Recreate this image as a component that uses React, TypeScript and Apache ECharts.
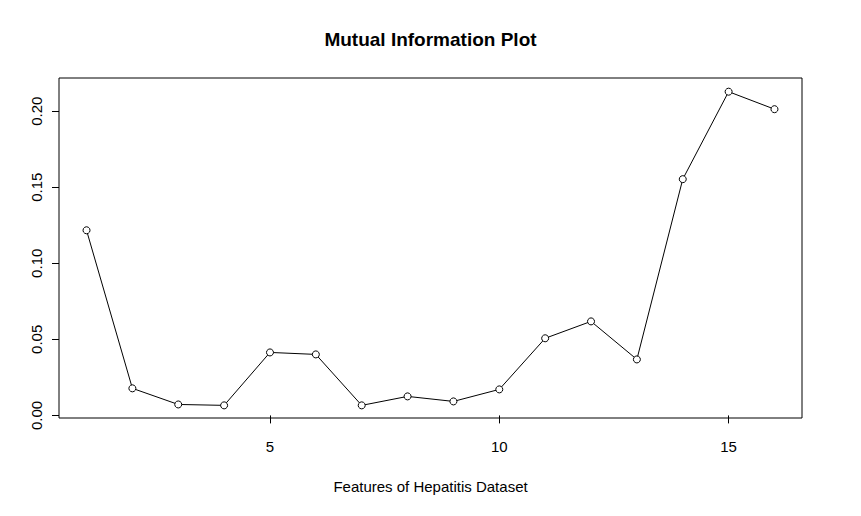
import React, { useEffect, useRef } from "react";
import * as echarts from "echarts";

const features = [1, 2, 3, 4, 5, 6, 7, 8, 9, 10, 11, 12, 13, 14, 15, 16];
const mutualInfo = [
  0.1217, 0.0178, 0.0072, 0.0066, 0.0414, 0.0401, 0.0066, 0.0125, 0.0092,
  0.0171, 0.0507, 0.0618, 0.0368, 0.1553, 0.2128, 0.2013,
];
const xTicks = [5, 10, 15];
const yTicks = [0, 0.05, 0.1, 0.15, 0.2];

const FONT = "'Liberation Sans', Arial, sans-serif";

export default function App() {
  const ref = useRef<HTMLDivElement>(null);
  useEffect(() => {
    if (!ref.current) return;
    const chart = echarts.init(ref.current, null, { renderer: "svg" });
    chart.setOption({
      animation: false,
      backgroundColor: "#ffffff",
      title: {
        text: "Mutual Information Plot",
        left: "center",
        top: 25,
        textStyle: { fontFamily: FONT, fontSize: 19, fontWeight: "bold", color: "#000" },
      },
      grid: {
        left: 59,
        right: 59,
        top: 78,
        bottom: 98,
        show: true,
        borderColor: "#000",
        borderWidth: 1,
        backgroundColor: "transparent",
      },
      xAxis: {
        type: "value",
        min: 0.4,
        max: 16.6,
        name: "Features of Hepatitis Dataset",
        nameLocation: "middle",
        nameGap: 61,
        nameTextStyle: { fontFamily: FONT, fontSize: 15, color: "#000" },
        axisLine: { show: false },
        splitLine: { show: false },
        axisTick: { show: true, length: 8, lineStyle: { color: "#000" }, customValues: xTicks },
        axisLabel: {
          fontFamily: FONT,
          fontSize: 15,
          color: "#000",
          margin: 21,
          customValues: xTicks,
          formatter: (v: number) => String(v),
        },
      },
      yAxis: {
        type: "value",
        min: -0.0017,
        max: 0.2218,
        axisLine: { show: false },
        splitLine: { show: false },
        axisTick: { show: true, length: 7, lineStyle: { color: "#000" }, customValues: yTicks },
        axisLabel: {
          fontFamily: FONT,
          fontSize: 15,
          color: "#000",
          rotate: 90,
          margin: 15,
          customValues: yTicks,
          formatter: (v: number) => v.toFixed(2),
        },
      },
      series: [
        {
          type: "line",
          data: features.map((f, i) => [f, mutualInfo[i]]),
          symbol: "circle",
          symbolSize: 7,
          lineStyle: { color: "#000", width: 1 },
          itemStyle: { color: "#fff", borderColor: "#000", borderWidth: 1 },
        },
      ],
    });
    return () => chart.dispose();
  }, []);
  return (
    <div
      ref={ref}
      style={{ position: "fixed", left: 0, top: 0, width: 861, height: 516 }}
    />
  );
}
